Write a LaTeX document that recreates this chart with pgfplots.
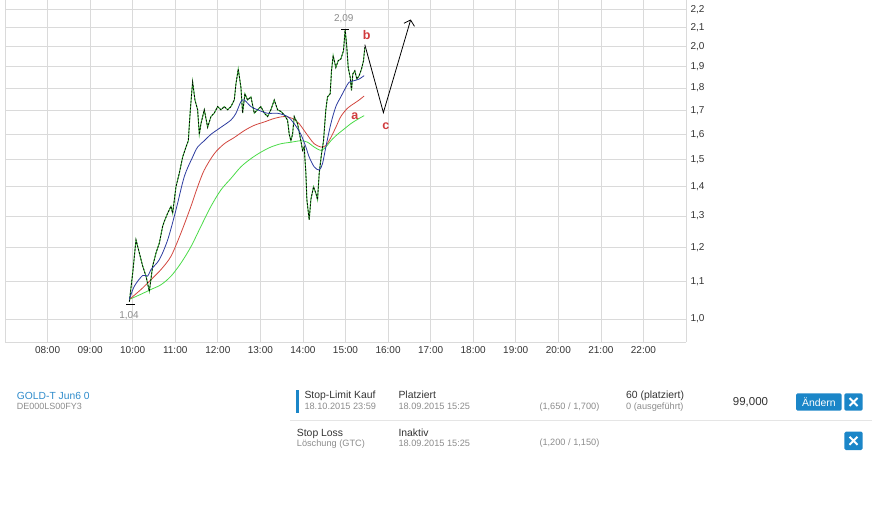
\documentclass[border=0pt]{standalone}
\usepackage{fontspec}
\setmainfont{Liberation Sans}
\usepackage{pgfplots}
\pgfplotsset{compat=1.18}
\usetikzlibrary{arrows.meta}
\definecolor{gridgray}{HTML}{DADADA}
\definecolor{mablue}{HTML}{2B3A9E}
\definecolor{mared}{HTML}{D2473F}
\definecolor{magreen}{HTML}{4ADB48}
\definecolor{lblred}{HTML}{D03A3C}
\definecolor{txtdark}{HTML}{333333}
\definecolor{txtgray}{HTML}{8C8C8C}
\definecolor{linkblue}{HTML}{2E8BCB}
\definecolor{btnblue}{HTML}{1B86C8}

\pgfplotstableread{
t p
9.922 1.045
10.0 1.124
10.078 1.223
10.156 1.183
10.235 1.144
10.313 1.115
10.391 1.073
10.469 1.144
10.548 1.183
10.626 1.213
10.704 1.266
10.743 1.282
10.822 1.309
10.9 1.332
10.939 1.309
11.017 1.4
11.095 1.449
11.174 1.51
11.252 1.549
11.307 1.574
11.354 1.703
11.408 1.828
11.463 1.746
11.526 1.703
11.565 1.6
11.604 1.644
11.682 1.703
11.761 1.629
11.839 1.674
11.917 1.689
11.995 1.717
12.074 1.703
12.152 1.717
12.23 1.703
12.308 1.717
12.387 1.746
12.426 1.819
12.48 1.889
12.543 1.803
12.582 1.689
12.637 1.774
12.7 1.746
12.778 1.76
12.856 1.689
12.934 1.703
13.013 1.717
13.091 1.689
13.169 1.674
13.247 1.703
13.326 1.746
13.404 1.703
13.482 1.696
13.56 1.681
13.638 1.659
13.678 1.6
13.717 1.574
13.756 1.6
13.795 1.674
13.873 1.644
13.951 1.574
13.991 1.536
14.03 1.549
14.069 1.449
14.092 1.355
14.147 1.287
14.186 1.355
14.249 1.4
14.304 1.377
14.343 1.355
14.382 1.449
14.437 1.523
14.484 1.574
14.538 1.703
14.577 1.76
14.64 1.774
14.671 1.881
14.71 1.955
14.773 1.897
14.828 1.93
14.89 1.938
14.953 1.98
14.992 2.091
15.031 1.997
15.063 1.897
15.11 1.85
15.141 1.789
15.172 1.866
15.219 1.881
15.266 1.842
15.321 1.858
15.376 1.889
15.423 1.93
15.454 1.997
}\price

\begin{document}
\begin{tikzpicture}
\path (0,0) rectangle (872pt,507pt);
\begin{axis}[
    at={(5pt,165pt)}, anchor=south west,
    scale only axis, width=681pt, height=342pt,
    xmin=7, xmax=23,
    ymode=log, ymin=0.943, ymax=2.252,
    axis x line*=bottom, axis y line*=right,
    axis line style={draw=gridgray, line width=0.7pt},
    xtick={7,...,23},
    xticklabels={,08:00,09:00,10:00,11:00,12:00,13:00,14:00,15:00,16:00,17:00,18:00,19:00,20:00,21:00,22:00,},
    ytick={1.0,1.1,1.2,1.3,1.4,1.5,1.6,1.7,1.8,1.9,2.0,2.1,2.2},
    yticklabels={{1,0},{1,1},{1,2},{1,3},{1,4},{1,5},{1,6},{1,7},{1,8},{1,9},{2,0},{2,1},{2,2}},
    grid=major, major grid style={draw=gridgray, line width=0.7pt},
    major tick length=0pt, minor tick num=0,
    tick label style={font=\fontsize{10}{12}\selectfont, text=txtdark},
    xticklabel style={yshift=-1pt},
    yticklabel style={anchor=west, xshift=1pt},
    /pgf/number format/assume math mode=true,
    clip=false,
]
% moving averages
\addplot[magreen, line width=0.8pt, smooth] table {
9.922 1.051
10.196 1.065
10.43 1.078
10.665 1.091
10.9 1.115
11.135 1.153
11.369 1.202
11.604 1.266
11.839 1.332
12.074 1.389
12.308 1.43
12.543 1.473
12.778 1.504
13.013 1.529
13.247 1.549
13.482 1.562
13.717 1.568
13.951 1.574
14.108 1.568
14.264 1.549
14.421 1.536
14.538 1.549
14.656 1.574
14.812 1.6
14.969 1.622
15.125 1.644
15.282 1.662
15.438 1.678
};
\addplot[mared, line width=0.8pt, smooth] table {
9.922 1.051
10.196 1.078
10.43 1.105
10.665 1.134
10.9 1.173
11.135 1.245
11.369 1.332
11.526 1.4
11.682 1.461
11.917 1.523
12.152 1.562
12.387 1.587
12.621 1.615
12.856 1.637
13.091 1.651
13.326 1.666
13.56 1.674
13.756 1.666
13.912 1.644
14.03 1.615
14.147 1.587
14.264 1.562
14.421 1.549
14.538 1.555
14.656 1.587
14.773 1.629
14.89 1.674
15.047 1.71
15.203 1.731
15.321 1.746
15.438 1.764
};
% price: green body with dark candle strokes on top
\addplot[magreen!80!black, line width=1pt] table[x=t,y=p] {\price};
\addplot[black, line width=0.75pt, dash pattern=on 1.8pt off 1.6pt] table[x=t,y=p] {\price};
\addplot[mablue, line width=0.8pt, smooth] table {
9.922 1.051
10.039 1.087
10.235 1.117
10.352 1.115
10.43 1.134
10.626 1.163
10.822 1.223
11.017 1.32
11.213 1.437
11.408 1.51
11.526 1.549
11.682 1.574
11.839 1.6
12.074 1.629
12.308 1.659
12.426 1.688
12.543 1.739
12.621 1.746
12.778 1.717
12.934 1.703
13.169 1.688
13.404 1.688
13.638 1.674
13.795 1.644
13.951 1.6
14.069 1.549
14.147 1.51
14.264 1.473
14.382 1.461
14.46 1.485
14.538 1.549
14.656 1.644
14.773 1.717
14.89 1.76
15.008 1.803
15.086 1.827
15.203 1.834
15.321 1.842
15.438 1.858
};
% high / low markers
\addplot[black, line width=0.8pt] coordinates {(14.895,2.09) (15.085,2.09)};
\addplot[black, line width=0.8pt] coordinates {(9.845,1.039) (10.056,1.039)};
\node[text=txtgray, font=\fontsize{10}{12}\selectfont] at (axis cs:14.96,2.145) {2,09};
\node[text=txtgray, font=\fontsize{10}{12}\selectfont] at (axis cs:9.913,1.008) {1,04};
% projected wave
\addplot[black, line width=0.8pt, -{Straight Barb[length=5pt,width=11pt]}] coordinates {(15.454,2.01) (15.89,1.691) (16.533,2.143)};
\node[text=lblred, font=\bfseries\fontsize{12.5}{14}\selectfont] at (axis cs:15.218,1.676) {a};
\node[text=lblred, font=\bfseries\fontsize{12.5}{14}\selectfont] at (axis cs:15.5,2.06) {b};
\node[text=lblred, font=\bfseries\fontsize{12.5}{14}\selectfont] at (axis cs:15.946,1.634) {c};
\end{axis}

% order panel below the chart
\begin{scope}[every node/.style={inner sep=0pt, anchor=base west}]
\node[text=linkblue, font=\fontsize{10.3}{12}\selectfont] at (16.7pt,107.6pt) {GOLD-T Jun6 0};
\node[text=txtgray, font=\fontsize{9}{11}\selectfont] at (16.7pt,97.1pt) {DE000LS00FY3};
\fill[btnblue] (296pt,93.7pt) rectangle (299.3pt,117pt);
\node[text=txtdark, font=\fontsize{10.4}{12}\selectfont] at (304.3pt,108.3pt) {Stop-Limit Kauf};
\node[text=txtgray, font=\fontsize{9.2}{11}\selectfont] at (304.3pt,97.1pt) {18.10.2015 23:59};
\node[text=txtdark, font=\fontsize{10.4}{12}\selectfont] at (398.3pt,108.3pt) {Platziert};
\node[text=txtgray, font=\fontsize{9.2}{11}\selectfont] at (398.3pt,97.1pt) {18.09.2015 15:25};
\node[text=txtgray, font=\fontsize{9.2}{11}\selectfont] at (539.3pt,97.1pt) {(1,650 / 1,700)};
\node[text=txtdark, font=\fontsize{10.4}{12}\selectfont] at (626pt,108.3pt) {60 (platziert)};
\node[text=txtgray, font=\fontsize{9.2}{11}\selectfont] at (626pt,97.1pt) {0 (ausgeführt)};
\node[text=txtdark, font=\fontsize{11.5}{13}\selectfont] at (732.7pt,102pt) {99,000};
\fill[btnblue, rounded corners=1.5pt] (796pt,96.3pt) rectangle (841.7pt,113.7pt);
\node[text=white, font=\fontsize{10.4}{12}\selectfont, anchor=center] at (818.9pt,105pt) {Ändern};
\fill[btnblue, rounded corners=1.5pt] (844.3pt,96.3pt) rectangle (862.7pt,113.7pt);
\draw[white, line width=2pt] (849.5pt,101pt) -- (857.5pt,109pt) (849.5pt,109pt) -- (857.5pt,101pt);
\draw[gridgray!70, line width=0.7pt] (290pt,87pt) -- (872pt,87pt);
\node[text=txtdark, font=\fontsize{10.4}{12}\selectfont] at (296.7pt,71pt) {Stop Loss};
\node[text=txtgray, font=\fontsize{9.2}{11}\selectfont] at (296.7pt,60.5pt) {Löschung (GTC)};
\node[text=txtdark, font=\fontsize{10.4}{12}\selectfont] at (398.3pt,71pt) {Inaktiv};
\node[text=txtgray, font=\fontsize{9.2}{11}\selectfont] at (398.3pt,60.5pt) {18.09.2015 15:25};
\node[text=txtgray, font=\fontsize{9.2}{11}\selectfont] at (539.3pt,61.5pt) {(1,200 / 1,150)};
\fill[btnblue, rounded corners=1.5pt] (844.3pt,57pt) rectangle (862.7pt,75.3pt);
\draw[white, line width=2pt] (849.5pt,62.2pt) -- (857.5pt,70.2pt) (849.5pt,70.2pt) -- (857.5pt,62.2pt);
\end{scope}
\pgfresetboundingbox
\useasboundingbox (0,0) rectangle (872pt,507pt);
\end{tikzpicture}
\end{document}
